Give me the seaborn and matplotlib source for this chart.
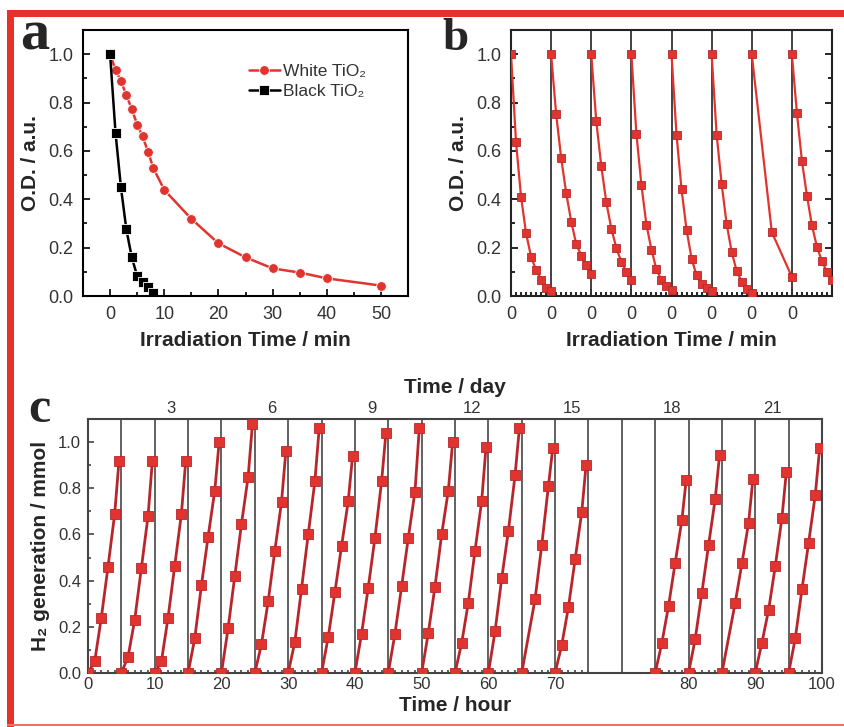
import numpy as np
import pandas as pd
import matplotlib
matplotlib.use("Agg")
import matplotlib.pyplot as plt
import seaborn as sns
from matplotlib.ticker import MultipleLocator, FixedLocator
from matplotlib.patches import Rectangle

# ---- panel a: decay curves
white_t = [0, 1, 2, 3, 4, 5, 6, 7, 8, 10, 15, 20, 25, 30, 35, 40, 50]
white_od = [1.0, 0.935, 0.89, 0.83, 0.774, 0.708, 0.66, 0.597, 0.528, 0.439,
            0.319, 0.218, 0.16, 0.114, 0.097, 0.073, 0.043]
black_t = [0, 1, 2, 3, 4, 5, 6, 7, 8]
black_od = [1.0, 0.676, 0.45, 0.276, 0.16, 0.083, 0.059, 0.039, 0.011]

# ---- panel b: 8 repeated cycles
b_t = [0, 1, 2, 3, 4, 5, 6, 7, 8]
b_cycles = [
    [1.0, 0.637, 0.411, 0.26, 0.162, 0.107, 0.068, 0.034, 0.02],
    [1.0, 0.753, 0.571, 0.427, 0.308, 0.216, 0.167, 0.127, 0.089],
    [1.0, 0.723, 0.537, 0.388, 0.279, 0.199, 0.141, 0.10, 0.068],
    [1.0, 0.671, 0.459, 0.295, 0.192, 0.11, 0.066, 0.041, 0.025],
    [1.0, 0.667, 0.441, 0.274, 0.155, 0.085, 0.048, 0.034, 0.02],
    [1.0, 0.667, 0.463, 0.297, 0.182, 0.103, 0.059, 0.030, 0.014],
    [1.0, None, None, None, 0.264, None, None, None, 0.079],
    [1.0, 0.758, 0.559, 0.415, 0.292, 0.203, 0.144, 0.099, 0.066],
]
b_cycle_len = 8

# ---- panel c: H2 generation, 5 h cycles per day
c_hours = [0, 1, 2, 3, 4, 4.65]
c_days = [1, 2, 3, 4, 5, 6, 7, 8, 9, 10, 11, 12, 13, 14, 15, 18, 19, 20, 21, 22]
c_cycles = [
    [0, 0.05, 0.24, 0.46, 0.69, 0.92],
    [0, 0.07, 0.23, 0.455, 0.68, 0.92],
    [0, 0.05, 0.24, 0.465, 0.69, 0.92],
    [0, 0.15, 0.38, 0.59, 0.79, 1.00],
    [0, 0.195, 0.42, 0.645, 0.85, 1.08],
    [0, 0.125, 0.31, 0.53, 0.74, 0.96],
    [0, 0.135, 0.365, 0.60, 0.83, 1.06],
    [0, 0.155, 0.35, 0.55, 0.745, 0.94],
    [0, 0.17, 0.37, 0.585, 0.83, 1.04],
    [0, 0.17, 0.375, 0.585, 0.785, 1.06],
    [0, 0.173, 0.374, 0.60, 0.79, 1.00],
    [0, 0.13, 0.305, 0.53, 0.745, 0.98],
    [0, 0.18, 0.41, 0.615, 0.856, 1.06],
    [0, None, 0.32, 0.554, 0.81, 0.974],
    [0, 0.122, 0.285, 0.492, 0.698, 0.902],
    [0, 0.13, 0.29, 0.478, 0.662, 0.837],
    [0, 0.147, 0.348, 0.554, 0.755, 0.945],
    [0, None, 0.305, 0.475, 0.65, 0.842],
    [0, 0.132, 0.273, 0.463, 0.673, 0.87],
    [0, 0.151, 0.363, 0.565, 0.773, 0.974],
]
day_labels = [3, 6, 9, 12, 15, 18, 21]
hour_labels = [0, 10, 20, 30, 40, 50, 60, 70, 80, 90, 100]

sns.set_theme(style="ticks")
plt.rcParams["font.family"] = ["Liberation Sans", "DejaVu Sans"]

RED = "#e2342f"
DARKRED = "#b8262c"
TXT = "#333333"

fig = plt.figure(figsize=(8.44, 7.27), dpi=100)
W, H = 844, 727


def box(l, t, r, b):
    return [l / W, 1 - b / H, (r - l) / W, (b - t) / H]


# ---------------- panel a
ax_a = fig.add_axes(box(83, 30, 408, 296))
df_a = pd.concat([
    pd.DataFrame({"t": white_t, "od": white_od, "sample": "White TiO₂"}),
    pd.DataFrame({"t": black_t, "od": black_od, "sample": "Black TiO₂"}),
])
sns.lineplot(data=df_a, x="t", y="od", hue="sample", style="sample",
             hue_order=["White TiO₂", "Black TiO₂"],
             markers={"White TiO₂": "o", "Black TiO₂": "s"}, dashes=False,
             palette={"White TiO₂": RED, "Black TiO₂": "black"},
             markersize=7, linewidth=1.8, markeredgewidth=0.6,
             ax=ax_a, legend=True)
ax_a.set_xlim(-5, 55)
ax_a.set_ylim(0, 1.1)
ax_a.xaxis.set_major_locator(MultipleLocator(10))
ax_a.xaxis.set_minor_locator(MultipleLocator(5))
ax_a.yaxis.set_major_locator(MultipleLocator(0.2))
ax_a.yaxis.set_minor_locator(MultipleLocator(0.1))
ax_a.yaxis.set_major_formatter(matplotlib.ticker.FormatStrFormatter("%.1f"))
ax_a.tick_params(which="both", direction="in", width=1.2, color="black",
                 labelsize=13, labelcolor=TXT, pad=7)
ax_a.tick_params(which="major", length=5)
ax_a.tick_params(which="minor", length=3)
ax_a.set_xlabel("Irradiation Time / min", fontsize=15, fontweight="bold", labelpad=6)
ax_a.set_ylabel("O.D. / a.u.", fontsize=15, fontweight="bold", labelpad=6)
leg = ax_a.legend(loc="upper right", bbox_to_anchor=(0.92, 0.93), frameon=False,
                  fontsize=12.5, handlelength=1.8, handletextpad=0.2,
                  labelspacing=0.25)
for txt in leg.get_texts():
    txt.set_color(TXT)
for sp in ax_a.spines.values():
    sp.set_linewidth(1.5)
    sp.set_color("black")

# ---------------- panel b
ax_b = fig.add_axes(box(511, 30, 832, 296))
rows = []
for k, vals in enumerate(b_cycles):
    for t, v in zip(b_t, vals):
        if v is not None:
            rows.append({"t": k * b_cycle_len + t, "od": v, "cycle": k})
df_b = pd.DataFrame(rows)
for k in range(1, len(b_cycles)):
    ax_b.axvline(k * b_cycle_len, color="#333333", lw=1.3, zorder=1)
sns.lineplot(data=df_b, x="t", y="od", units="cycle", estimator=None,
             color=RED, marker="s", markersize=6, linewidth=1.6,
             markeredgecolor=DARKRED, markeredgewidth=0.6, ax=ax_b, zorder=3)
ax_b.set_xlim(0, len(b_cycles) * b_cycle_len)
ax_b.set_ylim(0, 1.1)
ax_b.set_xticks([k * b_cycle_len for k in range(len(b_cycles))])
ax_b.set_xticklabels(["0"] * len(b_cycles))
ax_b.xaxis.set_minor_locator(MultipleLocator(1))
ax_b.yaxis.set_major_locator(MultipleLocator(0.2))
ax_b.yaxis.set_minor_locator(MultipleLocator(0.1))
ax_b.yaxis.set_major_formatter(matplotlib.ticker.FormatStrFormatter("%.1f"))
ax_b.tick_params(which="both", direction="in", width=1.2, color="black",
                 labelsize=13, labelcolor=TXT, pad=7)
ax_b.tick_params(axis="y", which="both", right=True)
ax_b.tick_params(which="major", length=5)
ax_b.tick_params(which="minor", length=3)
ax_b.set_xlabel("Irradiation Time / min", fontsize=15, fontweight="bold", labelpad=6)
ax_b.set_ylabel("O.D. / a.u.", fontsize=15, fontweight="bold", labelpad=6)
for sp in ax_b.spines.values():
    sp.set_linewidth(1.5)
    sp.set_color("#222222")


# ---------------- panel c
def hour_to_pos(h):
    return h if h <= 75 else h + 10


ax_c = fig.add_axes(box(88, 419, 822, 673))
rows = []
for k, (day, vals) in enumerate(zip(c_days, c_cycles)):
    for h, v in zip(c_hours, vals):
        if v is not None:
            rows.append({"pos": 5 * (day - 1) + h, "h2": v, "cycle": k})
df_c = pd.DataFrame(rows)
for d in range(1, 22):
    ax_c.axvline(5 * d, color="#555555", lw=1.3, zorder=1)
sns.lineplot(data=df_c, x="pos", y="h2", units="cycle", estimator=None,
             color=DARKRED, marker="s", markersize=7, linewidth=2.0,
             markerfacecolor=RED, markeredgecolor=DARKRED, markeredgewidth=0.6,
             ax=ax_c, zorder=3)
ax_c.set_xlim(0, 110)
ax_c.set_ylim(0, 1.1)
ax_c.set_xticks([hour_to_pos(h) for h in hour_labels])
ax_c.set_xticklabels([str(h) for h in hour_labels])
minor_c = [5 * (d - 1) + i for d in c_days for i in range(6)]
ax_c.xaxis.set_minor_locator(FixedLocator(minor_c))
ax_c.yaxis.set_major_locator(MultipleLocator(0.2))
ax_c.yaxis.set_minor_locator(MultipleLocator(0.1))
ax_c.yaxis.set_major_formatter(matplotlib.ticker.FormatStrFormatter("%.1f"))
ax_c.tick_params(which="both", direction="in", width=1.1, color="#333333",
                 labelsize=12, labelcolor=TXT, pad=3)
ax_c.tick_params(axis="y", pad=5)
ax_c.tick_params(which="major", length=4)
ax_c.tick_params(which="minor", length=2.5)
ax_c.set_xlabel("Time / hour", fontsize=15, fontweight="bold", labelpad=3)
ax_c.set_ylabel("H₂ generation / mmol", fontsize=15, fontweight="bold", labelpad=6)
for sp in ax_c.spines.values():
    sp.set_linewidth(1.5)
    sp.set_color("#444444")

ax_top = ax_c.twiny()
ax_top.set_xlim(ax_c.get_xlim())
ax_top.set_xticks([5 * d - 2.5 for d in day_labels])
ax_top.set_xticklabels([str(d) for d in day_labels])
ax_top.tick_params(length=0, labelsize=12, labelcolor=TXT, pad=2)
ax_top.set_xlabel("Time / day", fontsize=15, fontweight="bold", labelpad=6)
for sp in ax_top.spines.values():
    sp.set_visible(False)

# ---------------- panel letters
fig.text(20 / W, 1 - 50 / H, "a", fontsize=42, fontweight="bold",
         family="Liberation Serif", va="baseline", ha="left")
fig.text(442 / W, 1 - 50 / H, "b", fontsize=34, fontweight="bold",
         family="Liberation Serif", va="baseline", ha="left")
fig.text(28 / W, 1 - 422 / H, "c", fontsize=36, fontweight="bold",
         family="Liberation Serif", va="baseline", ha="left")

# ---------------- red frame
fig.add_artist(Rectangle((7 / W, 1 - 17 / H), 1 - 7 / W, 7 / H,
                         transform=fig.transFigure, color="#e8302a", lw=0))
fig.add_artist(Rectangle((7 / W, 0), 7 / W, 1 - 10 / H,
                         transform=fig.transFigure, color="#e8302a", lw=0))
fig.add_artist(Rectangle((7 / W, 1 / H), 1 - 7 / W, 2 / H,
                         transform=fig.transFigure, color="#f07068", lw=0))

fig.savefig("out.png", dpi=100)
